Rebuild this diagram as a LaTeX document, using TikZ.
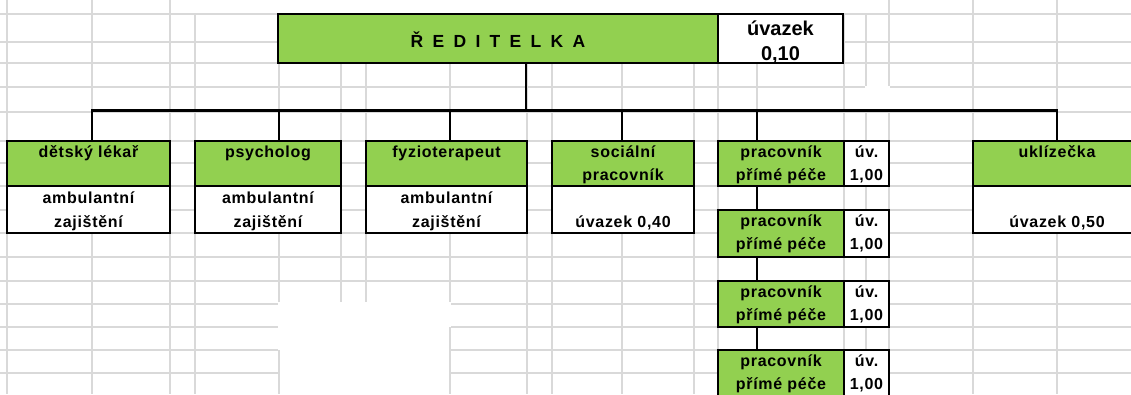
\documentclass[tikz,border=0pt]{standalone}
\usepackage{fontspec}
\setmainfont{Liberation Sans}
\newfontfamily\lblfont{Liberation Sans}[LetterSpace=4.5]
\usetikzlibrary{calc}
\definecolor{exgreen}{RGB}{146,208,80}
\definecolor{gridgray}{RGB}{217,217,217}
\begin{document}
\begin{tikzpicture}[x=1pt,y=-1pt,
  gridline/.style={draw=gridgray,line width=1.1pt},
  cell/.style={draw=black,line width=2.8pt,inner sep=0pt,outer sep=0pt,rectangle},
  gcell/.style={cell,fill=exgreen},
  wcell/.style={cell,fill=white},
  conn/.style={draw=black,line width=2.8pt,line join=miter},
  lbl/.style={inner sep=0pt,anchor=base,font=\lblfont\bfseries\fontsize{16}{18}\selectfont},
  big/.style={inner sep=0pt,anchor=base,font=\bfseries\fontsize{20}{22}\selectfont}]
\useasboundingbox (0,0) rectangle (1131,394);
\clip (0,0) rectangle (1131,394);
% spreadsheet grid
\foreach \y in {14,42,63,87,112,141,163,186,210,233,257,281,304,327,350,373}
  \draw[gridline] (0,\y) -- (1131,\y);
\foreach \x in {7,92,170,889,973,1057}
  \draw[gridline] (\x,0) -- (\x,394);
\foreach \x in {195,279,341,366,450,527,552,622,694,718,757,844,866}
  \draw[gridline] (\x,14) -- (\x,394);
\fill[white] (278,302) rectangle (451,394);
\draw[gridline] (279,350) -- (279,394);
\draw[gridline] (450,327) -- (450,394);
\fill[white] (865.4,86.4) rectangle (889.6,111.5);

% boxes
\node[gcell,minimum width=440pt,minimum height=49pt] (red) at (498,38.5) {};
\node[wcell,minimum width=125pt,minimum height=49pt] (redu) at (780.5,38.5) {};

\node[wcell,minimum width=163pt,minimum height=47pt] (lekarw) at (88.5,209.5) {};
\node[gcell,minimum width=163pt,minimum height=45pt] (lekar) at (88.5,163.5) {};
\node[wcell,minimum width=146pt,minimum height=47pt] (psyw) at (268,209.5) {};
\node[gcell,minimum width=146pt,minimum height=45pt] (psy) at (268,163.5) {};
\node[wcell,minimum width=161pt,minimum height=47pt] (fyzw) at (446.5,209.5) {};
\node[gcell,minimum width=161pt,minimum height=45pt] (fyz) at (446.5,163.5) {};
\node[wcell,minimum width=142pt,minimum height=47pt] (socw) at (623,209.5) {};
\node[gcell,minimum width=142pt,minimum height=45pt] (soc) at (623,163.5) {};
\node[wcell,minimum width=168pt,minimum height=47pt] (ukw) at (1057,209.5) {};
\node[gcell,minimum width=168pt,minimum height=45pt] (uk) at (1057,163.5) {};

\node[gcell,minimum width=126pt,minimum height=45pt] (p1) at (781,163.5) {};
\node[wcell,minimum width=45pt,minimum height=45pt] (p1u) at (866.5,163.5) {};
\node[gcell,minimum width=126pt,minimum height=47pt] (p2) at (781,233.5) {};
\node[wcell,minimum width=45pt,minimum height=47pt] (p2u) at (866.5,233.5) {};
\node[gcell,minimum width=126pt,minimum height=46pt] (p3) at (781,304) {};
\node[wcell,minimum width=45pt,minimum height=46pt] (p3u) at (866.5,304) {};
\node[gcell,minimum width=126pt,minimum height=46pt] (p4) at (781,373) {};
\node[wcell,minimum width=45pt,minimum height=46pt] (p4u) at (866.5,373) {};

% connectors
\coordinate (top) at (526,110.5);
\coordinate (d1) at (92,110.5);
\coordinate (d2) at (279,110.5);
\coordinate (d3) at (450,110.5);
\coordinate (d4) at (622,110.5);
\coordinate (d5) at (757,110.5);
\coordinate (d6) at (1057,110.5);
\draw[conn] (red.south -| top) -- (top);
\draw[conn] (d1 |- lekar.north) -- (d1) -- (d6) -- (d6 |- uk.north);
\foreach \d/\n in {d2/psy,d3/fyz,d4/soc,d5/p1}
  \draw[conn] (\d) -- (\d |- \n.north);
\draw[conn] (d5 |- p1.south) -- (d5 |- p2.north);
\draw[conn] (d5 |- p2.south) -- (d5 |- p3.north);
\draw[conn] (d5 |- p3.south) -- (d5 |- p4.north);

% labels
\node[inner sep=0pt,anchor=base,font=\bfseries\fontsize{17.5}{19}\selectfont] (tred) at ($(red.north)+(0,33.5)$)
  {Ř\kern9.3pt E\kern9.3pt D\kern9.3pt I\kern9.3pt T\kern9.3pt E\kern9.3pt L\kern9.3pt K\kern9.3pt A};
\node[big] (tredu1) at ($(redu.north)+(0,21.5)$) {úvazek};
\node[big] (tredu2) at ($(redu.north)+(0,46)$) {0,10};

\node[lbl] (tl1) at ($(lekar.north)+(0,16.5)$) {dětský lékař};
\node[lbl] (tl2) at ($(lekarw.north)+(0,17.5)$) {ambulantní};
\node[lbl] (tl3) at ($(lekarw.north)+(0,41)$) {zajištění};
\node[lbl] (tp1) at ($(psy.north)+(0,16.5)$) {psycholog};
\node[lbl] (tp2) at ($(psyw.north)+(0,17.5)$) {ambulantní};
\node[lbl] (tp3) at ($(psyw.north)+(0,41)$) {zajištění};
\node[lbl] (tf1) at ($(fyz.north)+(0,16.5)$) {fyzioterapeut};
\node[lbl] (tf2) at ($(fyzw.north)+(0,17.5)$) {ambulantní};
\node[lbl] (tf3) at ($(fyzw.north)+(0,41)$) {zajištění};
\node[lbl] (ts1) at ($(soc.north)+(0,16.5)$) {sociální};
\node[lbl] (ts2) at ($(soc.north)+(0,39)$) {pracovník};
\node[lbl] (ts3) at ($(socw.north)+(0,41)$) {úvazek 0,40};
\node[lbl] (tu1) at ($(uk.north)+(0,16.5)$) {uklízečka};
\node[lbl] (tu3) at ($(ukw.north)+(0,41)$) {úvazek 0,50};
\foreach \p in {p1,p2,p3,p4}{
  \node[lbl] (\p a) at ($(\p.north)+(0,16.5)$) {pracovník};
  \node[lbl] (\p b) at ($(\p.north)+(0,39)$) {přímé péče};
  \node[lbl] (\p c) at ($(\p u.north)+(0,16.5)$) {úv.};
  \node[lbl] (\p d) at ($(\p u.north)+(0,39)$) {1,00};
}
\end{tikzpicture}
\end{document}
